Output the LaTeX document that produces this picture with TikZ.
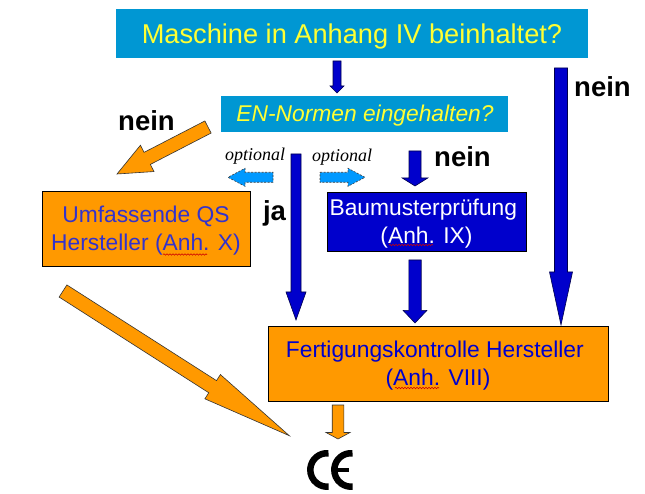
\documentclass[tikz,border=0pt]{standalone}
\usepackage{fontspec}
\setmainfont{Liberation Sans}
\newfontfamily\serifopt{Liberation Serif}
\usetikzlibrary{calc,decorations.pathmorphing}
\definecolor{topblue}{HTML}{0097D3}
\definecolor{orangeb}{HTML}{FF9900}
\definecolor{deepblue}{HTML}{0000CC}
\definecolor{textblue}{HTML}{3333CC}
\definecolor{lightb}{HTML}{0099FF}
\definecolor{yel}{HTML}{FFFF33}
\newcommand{\blockarrow}[6]{%
  \coordinate (n) at ($(#3)!#6!(#2)$);
  \draw[#1] ($(#2)!#4!90:(#3)$) -- ($(n)!#4!-90:(#2)$) -- ($(n)!#5!-90:(#2)$) -- (#3)
    -- ($(n)!#5!90:(#2)$) -- ($(n)!#4!90:(#2)$) -- ($(#2)!#4!-90:(#3)$) -- cycle;
}
\tikzset{
  bluearrow/.style={fill=deepblue,draw=black!70!blue,line width=.6pt},
  orangearrow/.style={fill=orangeb,draw=black!80,line width=.6pt},
  optarrow/.style={fill=lightb,draw=black!75,dash pattern=on 2pt off 1.5pt,line width=.6pt},
  boxo/.style={draw=black,line width=1pt,fill=orangeb,inner sep=0pt},
  boxt/.style={align=center,inner sep=0pt,font=\fontsize{22.8}{28}\selectfont},
  lbl/.style={font=\fontsize{27.5}{30}\selectfont\bfseries},
  opt/.style={font=\fontsize{18}{20}\selectfont\serifopt\itshape},
  wavy/.style={draw=red!80!black,line width=.6pt,decorate,decoration={snake,amplitude=.7pt,segment length=3pt}},
  cemark/.style={draw=black,line width=6.5pt}
}
\begin{document}
\begin{tikzpicture}[x=1pt,y=-1pt]
\useasboundingbox (0,0) rectangle (645,494);
\fill[white] (0,0) rectangle (645,494);
% boxes
\node[fill=topblue,minimum width=472pt,minimum height=49pt,inner sep=0pt] (top) at (352,33.5) {};
\node[text=yel,inner sep=0pt,font=\fontsize{27.2}{30}\selectfont] (topt) at (352,36.5) {Maschine in Anhang IV beinhaltet?};
\node[fill=topblue,minimum width=287pt,minimum height=36pt,inner sep=0pt] (en) at (364.5,114) {};
\node[text=yel,inner sep=0pt,font=\fontsize{22.8}{24}\selectfont\itshape] (ent) at (365,115.5) {EN-Normen eingehalten?};
\node[boxo,minimum width=208pt,minimum height=75pt] (qs) at (146,229.5) {};
\node[boxt,text=textblue] (qst) at (146,230.5) {Umfassende QS\\Hersteller (Anh. X)};
\node[fill=deepblue,draw=black,line width=.6pt,minimum width=199pt,minimum height=59pt,inner sep=0pt] (baum) at (426.5,221.5) {};
\node[boxt,text=white] (baumt) at (426.5,223.5) {Baumusterprüfung~\mbox{}\\(Anh. IX)};
\node[boxo,minimum width=340pt,minimum height=75pt] (fert) at (438,363.5) {};
\node[boxt,text=deepblue] (fertt) at (438,365.5) {Fertigungskontrolle Hersteller~\mbox{}\\(Anh. VIII)};
% wavy spell-check marks
\coordinate (w1a) at (163,254.5); \coordinate (w1b) at (207,254.5);
\coordinate (w2a) at (395,388); \coordinate (w2b) at (439,388);
\coordinate (w3a) at (389,245); \coordinate (w3b) at (433,245);
\draw[wavy] (w1a) -- (w1b);
\draw[wavy] (w2a) -- (w2b);
\draw[wavy] (w3a) -- (w3b);
% blue arrows
\coordinate (a1s) at (337,61); \coordinate (a1e) at (337,93);
\blockarrow{bluearrow}{a1s}{a1e}{4pt}{7pt}{7pt}
\coordinate (a2s) at (561,68); \coordinate (a2e) at (561,325);
\blockarrow{bluearrow}{a2s}{a2e}{6.5pt}{11.5pt}{53pt}
\coordinate (a3s) at (296,154); \coordinate (a3e) at (296,320);
\blockarrow{bluearrow}{a3s}{a3e}{5pt}{10pt}{28pt}
\coordinate (a4s) at (415,151); \coordinate (a4e) at (415,186);
\blockarrow{bluearrow}{a4s}{a4e}{6pt}{12.8pt}{8pt}
\coordinate (a5s) at (415,260); \coordinate (a5e) at (415,323);
\blockarrow{bluearrow}{a5s}{a5e}{6.2pt}{12pt}{12.7pt}
% orange arrows
\coordinate (o1s) at (208,127); \coordinate (o1e) at (117,174);
\blockarrow{orangearrow}{o1s}{o1e}{6.8pt}{14.8pt}{34pt}
\coordinate (o2s) at (63,291); \coordinate (o2e) at (289.3,435.7);
\blockarrow{orangearrow}{o2s}{o2e}{7.2pt}{14.4pt}{91pt}
\coordinate (o3s) at (338,405); \coordinate (o3e) at (338,439);
\blockarrow{orangearrow}{o3s}{o3e}{5.8pt}{12pt}{6.5pt}
% optional arrows
\coordinate (p1s) at (273,177.3); \coordinate (p1e) at (228,177.3);
\blockarrow{optarrow}{p1s}{p1e}{5pt}{9pt}{17pt}
\coordinate (p2s) at (320,177.3); \coordinate (p2e) at (365,177.3);
\blockarrow{optarrow}{p2s}{p2e}{5pt}{9pt}{17pt}
% labels
\node[lbl] (l1) at (146.5,121) {nein};
\node[lbl] (l2) at (602.5,87) {nein};
\node[lbl] (l3) at (274.5,213) {ja};
\node[lbl] (l4) at (462.5,157) {nein};
\node[opt] (t1) at (255,156) {optional};
\node[opt] (t2) at (342,157) {optional};
% CE mark
\draw[cemark] (328.5,453.25) arc[start angle=-85,end angle=-275,x radius=16.75,y radius=16.75];
\draw[cemark] (352.5,453.25) arc[start angle=-85,end angle=-275,x radius=16.75,y radius=16.75];
\draw[black,line width=4.5pt] (336,470) -- (349,470);
\end{tikzpicture}
\end{document}
